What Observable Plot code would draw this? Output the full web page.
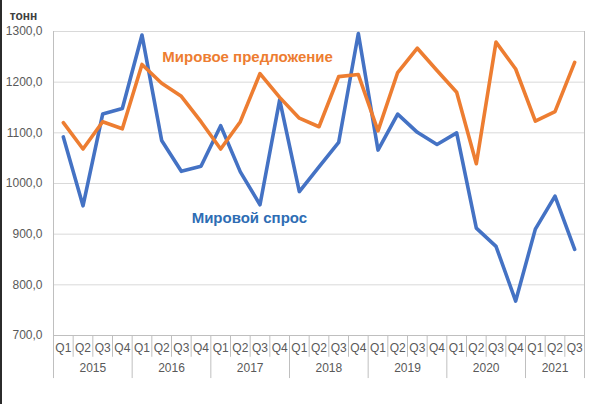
<!DOCTYPE html>
<html>
<head>
<meta charset="utf-8">
<script src="https://cdn.jsdelivr.net/npm/d3@7"></script>
<script src="https://cdn.jsdelivr.net/npm/@observablehq/plot@0.6"></script>
<style>
  html, body { margin: 0; padding: 0; background: #fff; }
  #wrap { position: relative; width: 600px; height: 404px; overflow: hidden; }
  #edge { position: absolute; left: 0; top: 0; width: 2px; height: 404px; background: #2b2b2b; }
</style>
</head>
<body>
<div id="wrap"><div id="edge"></div></div>
<script>
// ---- data ----
const quarters = ["Q1","Q2","Q3","Q4","Q1","Q2","Q3","Q4","Q1","Q2","Q3","Q4","Q1","Q2","Q3","Q4","Q1","Q2","Q3","Q4","Q1","Q2","Q3","Q4","Q1","Q2","Q3"];
const years = ["2015","2016","2017","2018","2019","2020","2021"];
const yearQuarterCounts = [4,4,4,4,4,4,3];
const supply = [1120,1068,1122,1108,1235,1198,1172,1122,1068,1122,1217,1170,1129,1112,1211,1215,1104,1219,1267,1223,1180,1039,1279,1226,1123,1142,1239];
const demand = [1092,956,1137,1148,1293,1085,1024,1034,1114,1023,958,1165,984,1033,1081,1296,1066,1137,1101,1077,1100,912,876,768,910,975,870];
const yTicks = [700,800,900,1000,1100,1200,1300];
const supplyLabel = "Мировое предложение";
const demandLabel = "Мировой спрос";
const unitLabel = "тонн";

// ---- derived tables ----
const rows = quarters.map((q, i) => ({i, q, supply: supply[i], demand: demand[i]}));
let start = 0;
const yearRows = years.map((y, k) => {
  const n = yearQuarterCounts[k];
  const r = {year: y, center: start + (n - 1) / 2, left: start - 0.5, right: start + n - 0.5};
  start += n;
  return r;
});
const yearEdges = [yearRows[0].left, ...yearRows.map(r => r.right)];
const quarterEdges = rows.map(r => r.i - 0.5).filter(e => !yearEdges.includes(e));

const gray = "#BFBFBF";
const labelGray = "#595959";
const font = "Liberation Sans, Arial, sans-serif";

const chart = Plot.plot({
  width: 600,
  height: 404,
  marginLeft: 53,
  marginRight: 16,
  marginTop: 31,
  marginBottom: 69,
  style: {fontFamily: font, background: "#fff"},
  x: {domain: [-0.5, quarters.length - 0.5], axis: null},
  y: {domain: [700, 1300], axis: null},
  marks: [
    Plot.gridY(yTicks, {stroke: "#D9D9D9", strokeOpacity: 1, strokeWidth: 1}),
    Plot.axisY(yTicks, {
      tickSize: 0, tickPadding: 11, fontSize: 12, fill: labelGray,
      tickFormat: d => d.toFixed(1).replace(".", ","), label: null
    }),
    Plot.ruleY([700], {stroke: gray}),
    // quarter separators (short), year separators (long)
    Plot.ruleX(quarterEdges, {y1: 700, y2: 657, stroke: gray}),
    Plot.ruleX(yearEdges.slice(1, -1), {y1: 700, y2: 615, stroke: gray}),
    Plot.ruleX([yearEdges[0], yearEdges[yearEdges.length - 1]], {y1: 1300, y2: 615, stroke: gray}),
    // category labels
    Plot.text(rows, {x: "i", text: "q", frameAnchor: "bottom", dy: 16, fontSize: 12, fill: labelGray}),
    Plot.text(yearRows, {x: "center", text: "year", frameAnchor: "bottom", dy: 36, fontSize: 12, fill: labelGray}),
    // series
    Plot.line(rows, {x: "i", y: "demand", stroke: "#4472C4", strokeWidth: 3.6}),
    Plot.line(rows, {x: "i", y: "supply", stroke: "#ED7D31", strokeWidth: 3.6}),
    // annotations
    Plot.text([supplyLabel], {x: 9.37, y: 1249, text: d => d, fill: "#ED7D31", fontSize: 15, fontWeight: "bold", stroke: "white", strokeWidth: 5}),
    Plot.text([demandLabel], {x: 9.46, y: 931, text: d => d, fill: "#2E6DB4", fontSize: 15, fontWeight: "bold", stroke: "white", strokeWidth: 5}),
    Plot.text([unitLabel], {frameAnchor: "top-left", lineAnchor: "middle", textAnchor: "middle", dx: -30, dy: -15, text: d => d, fontSize: 12, fontWeight: "bold", fill: "#404040"})
  ]
});
document.getElementById("wrap").appendChild(chart);
</script>
</body>
</html>
